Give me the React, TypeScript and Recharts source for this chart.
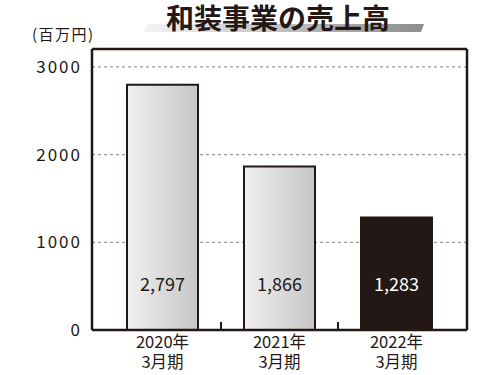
import { Bar, BarChart, CartesianGrid, Cell, LabelList, XAxis, YAxis } from "recharts";

const INK = "#231815";
const GRID = "#9a9a9a";
const FONT = '"Noto Sans CJK JP", "Noto Sans", sans-serif';

const TITLE = "和装事業の売上高";
const UNIT = "(百万円)";
const years = ["2020年", "2021年", "2022年"];
const periods = ["3月期", "3月期", "3月期"];
const sales = [2797, 1866, 1283];
const yTicks = [0, 1000, 2000, 3000];

const data = years.map((y, i) => ({ year: y, period: periods[i], sales: sales[i] }));

const XTick = (props: any) => {
  const { x, y, payload, index } = props;
  const band = 117;
  const axisY = y - 8;
  return (
    <g>
      {index < years.length - 1 && (
        <line x1={x + band / 2} x2={x + band / 2} y1={axisY} y2={axisY - 8} stroke={INK} strokeWidth={2} />
      )}
      <text x={x} y={y + 10} textAnchor="middle" fontSize={16.5} fill={INK} fontFamily={FONT}>
        {payload.value}
      </text>
      <text x={x} y={y + 30} textAnchor="middle" fontSize={16.5} fill={INK} fontFamily={FONT}>
        {periods[index]}
      </text>
    </g>
  );
};

const ValueLabel = (props: any) => {
  const { x, y, width, height, value, index } = props;
  return (
    <text
      x={x + width / 2}
      y={y + height - 47}
      textAnchor="middle"
      dominantBaseline="central"
      fontSize={18}
      fill={index === 2 ? "#fff" : INK}
      fontFamily={FONT}
    >
      {value.toLocaleString("en-US")}
    </text>
  );
};

export default function App() {
  return (
    <div style={{ position: "absolute", left: 0, top: 0, width: 500, height: 375, background: "#fff", fontFamily: FONT }}>
      <svg width={500} height={60} style={{ position: "absolute", left: 0, top: 0 }}>
        <defs>
          <linearGradient id="titleBar" x1="0" y1="0" x2="1" y2="0">
            <stop offset="0%" stopColor="#f4f4f4" />
            <stop offset="100%" stopColor="#8c8c8c" />
          </linearGradient>
        </defs>
        <polygon points="147,24 424,24 421,32 144,32" fill="url(#titleBar)" />
        <text x={278} y={29} textAnchor="middle" fontSize={28} fontWeight={700} fill={INK} fontFamily={FONT}>
          {TITLE}
        </text>
        <text x={32} y={40} fontSize={15} letterSpacing={1.5} fill={INK} fontFamily={FONT}>
          {UNIT}
        </text>
      </svg>
      <BarChart
        width={500}
        height={375}
        data={data}
        barCategoryGap={23}
        margin={{ top: 49, right: 33, bottom: 0, left: 0 }}
      >
        <defs>
          <linearGradient id="grayBar" x1="0" y1="0" x2="1" y2="0">
            <stop offset="0%" stopColor="#f0f0f0" />
            <stop offset="100%" stopColor="#c6c6c6" />
          </linearGradient>
        </defs>
        <CartesianGrid vertical={false} stroke={GRID} strokeDasharray="3 3" strokeWidth={1.2} />
        <CartesianGrid
          stroke={INK}
          strokeWidth={2.5}
          horizontalCoordinatesGenerator={({ offset }: any) => [offset.top]}
          verticalCoordinatesGenerator={({ offset }: any) => [offset.left + offset.width]}
        />
        <XAxis
          dataKey="year"
          height={45}
          padding={{ left: 12, right: 12 }}
          axisLine={{ stroke: INK, strokeWidth: 2.5 }}
          tickLine={false}
          tick={<XTick />}
          interval={0}
        />
        <YAxis
          width={92}
          domain={[0, 3205]}
          ticks={yTicks}
          allowDataOverflow
          axisLine={{ stroke: INK, strokeWidth: 2.5 }}
          tickLine={false}
          tickSize={8}
          tickMargin={2}
          tick={{ fontSize: 17, fill: INK, fontFamily: FONT, letterSpacing: 2 }}
        />
        <Bar dataKey="sales" stroke={INK} strokeWidth={2} isAnimationActive={false}>
          {data.map((d, i) => (
            <Cell key={d.year} fill={i === 2 ? INK : "url(#grayBar)"} />
          ))}
          <LabelList dataKey="sales" content={<ValueLabel />} />
        </Bar>
      </BarChart>
    </div>
  );
}
